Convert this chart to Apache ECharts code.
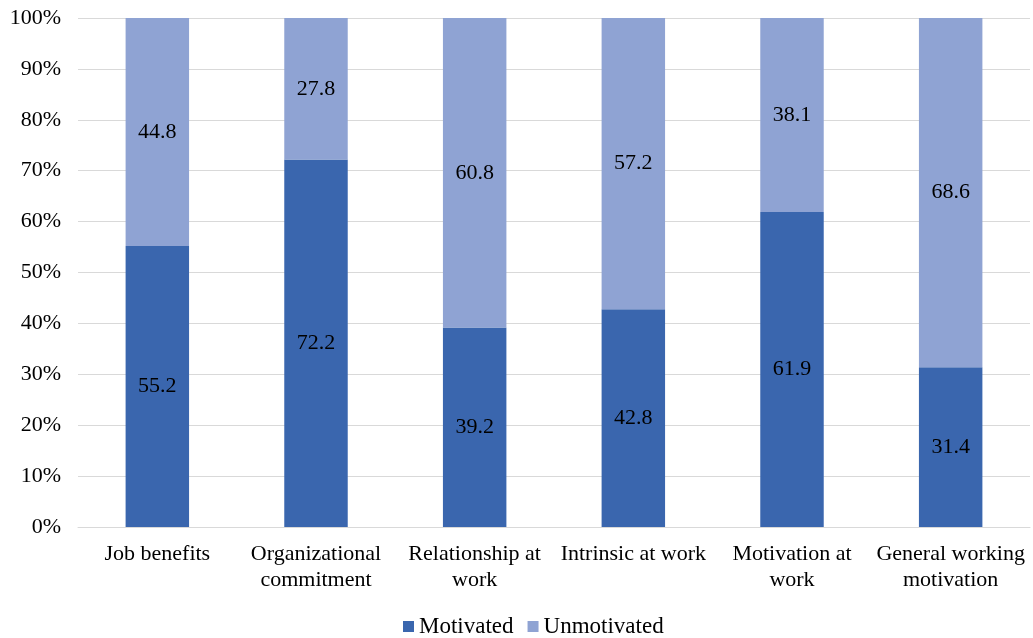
<!DOCTYPE html>
<html>
<head>
<meta charset="utf-8">
<script src="https://cdn.jsdelivr.net/npm/echarts@6/dist/echarts.min.js"></script>
<style>
  html, body { margin: 0; padding: 0; background: #fff; }
  #chart { width: 1033px; height: 638px; }
</style>
</head>
<body>
<div id="chart"></div>
<script>
// categories and values (percent)
const categories = [
  'Job benefits',
  'Organizational\ncommitment',
  'Relationship at\nwork',
  'Intrinsic at work',
  'Motivation at\nwork',
  'General working\nmotivation'
]
const motivated = [55.2, 72.2, 39.2, 42.8, 61.9, 31.4]
const unmotivated = [44.8, 27.8, 60.8, 57.2, 38.1, 68.6]

const font = 'Liberation Serif, Times New Roman, serif'

const chart = echarts.init(document.getElementById('chart'))

const labelStyle = {
  show: true,
  position: 'inside',
  color: '#000',
  fontFamily: font,
  fontSize: 22,
  formatter: p => p.value.toFixed(1)
}

chart.setOption({
  animation: false,
  grid: { left: 78, right: 3, top: 18, bottom: 111 },
  legend: {
    bottom: -5,
    left: 398,
    itemWidth: 11,
    itemHeight: 11,
    itemGap: 14,
    icon: 'rect',
    textStyle: { fontFamily: font, fontSize: 23, color: '#000' },
    data: ['Motivated', 'Unmotivated']
  },
  xAxis: {
    type: 'category',
    data: categories,
    axisLine: { lineStyle: { color: '#d9d9d9' } },
    axisTick: { show: false },
    axisLabel: {
      interval: 0,
      color: '#000',
      fontFamily: font,
      fontSize: 22,
      lineHeight: 26,
      margin: 14
    }
  },
  yAxis: {
    type: 'value',
    min: 0,
    max: 100,
    interval: 10,
    axisLine: { show: false },
    axisTick: { show: false },
    splitLine: { lineStyle: { color: '#d9d9d9' } },
    axisLabel: {
      color: '#000',
      fontFamily: font,
      fontSize: 22,
      margin: 17,
      formatter: '{value}%'
    }
  },
  series: [
    {
      name: 'Motivated',
      type: 'bar',
      stack: 'total',
      barWidth: '40%',
      itemStyle: { color: '#3a66ae' },
      label: labelStyle,
      data: motivated
    },
    {
      name: 'Unmotivated',
      type: 'bar',
      stack: 'total',
      barWidth: '40%',
      itemStyle: { color: '#8fa3d3' },
      label: labelStyle,
      data: unmotivated
    }
  ]
})
</script>
</body>
</html>
